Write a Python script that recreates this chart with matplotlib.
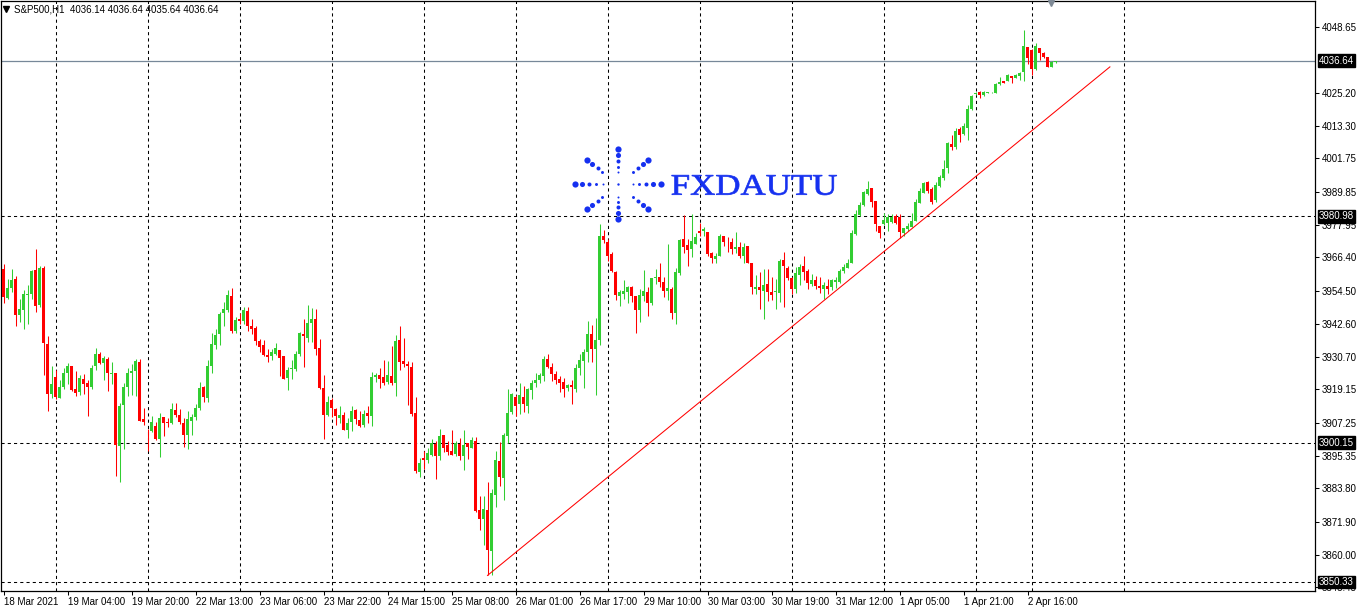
import numpy as np
import matplotlib
matplotlib.use("Agg")
import matplotlib.pyplot as plt
from matplotlib.textpath import TextPath
from matplotlib.patches import PathPatch
from matplotlib.font_manager import FontProperties
from matplotlib.transforms import Affine2D, blended_transform_factory

plt.rcParams['font.family'] = ['Liberation Sans', 'DejaVu Sans']

# S&P500 H1 candles, 18 Mar 2021 -> 2 Apr 2021
opens = [
    3962.2, 3952.0, 3955.5, 3958.6, 3945.9, 3947.4, 3952.9, 3953.2, 3961.9, 3949.2,
    3962.6, 3935.5, 3917.6, 3923.7, 3916.1, 3920.2, 3925.2, 3927.6, 3919.4, 3918.1,
    3923.0, 3921.6, 3920.2, 3927.4, 3931.9, 3928.5, 3930.2, 3924.5, 3925.1, 3898.8,
    3913.5, 3919.9, 3924.9, 3925.9, 3929.1, 3908.7, 3904.8, 3904.4, 3906.2, 3901.3,
    3909.4, 3907.4, 3907.0, 3911.9, 3910.1, 3907.3, 3903.0, 3908.0, 3909.4, 3912.4,
    3920.1, 3916.0, 3927.7, 3935.2, 3938.8, 3946.3, 3947.6, 3952.6, 3940.1, 3944.4,
    3943.5, 3947.3, 3941.9, 3941.2, 3936.3, 3935.1, 3931.6, 3931.2, 3931.9, 3933.4,
    3931.2, 3923.1, 3926.5, 3926.6, 3931.8, 3939.1, 3937.7, 3943.0, 3944.4, 3934.1,
    3919.8, 3910.2, 3915.5, 3912.3, 3908.8, 3910.2, 3904.5, 3907.4, 3911.9, 3908.4,
    3906.5, 3910.8, 3909.5, 3923.5, 3924.3, 3923.7, 3921.9, 3924.1, 3921.3, 3936.9,
    3929.4, 3928.2, 3927.3, 3910.9, 3889.5, 3894.8, 3894.1, 3895.6, 3899.8, 3895.3,
    3902.8, 3899.2, 3897.3, 3896.1, 3899.8, 3895.5, 3899.9, 3898.3, 3900.9, 3876.0,
    3872.7, 3876.2, 3861.3, 3881.3, 3893.7, 3887.4, 3902.4, 3911.1, 3916.6, 3914.1,
    3916.6, 3913.4, 3918.8, 3921.3, 3922.4, 3923.8, 3930.0, 3927.3, 3924.5, 3922.9,
    3921.9, 3919.5, 3920.9, 3919.4, 3926.9, 3929.3, 3932.5, 3939.1, 3933.5, 3936.9,
    3974.0, 3971.7, 3967.6, 3961.0, 3952.7, 3953.2, 3953.9, 3955.8, 3952.5, 3947.4,
    3952.4, 3954.1, 3950.0, 3958.8, 3959.4, 3957.7, 3954.5, 3955.0, 3946.4, 3960.8,
    3972.9, 3970.7, 3969.4, 3971.2, 3975.8, 3975.6, 3975.5, 3967.9, 3965.7, 3966.9,
    3974.0, 3972.0, 3971.9, 3969.3, 3970.0, 3966.8, 3970.5, 3964.5, 3955.0, 3955.7,
    3954.4, 3956.9, 3954.1, 3953.8, 3953.7, 3965.5, 3962.6, 3958.8, 3955.2, 3960.0,
    3963.2, 3961.6, 3956.7, 3958.3, 3956.2, 3955.1, 3956.1, 3955.7, 3957.6, 3957.6,
    3961.4, 3962.7, 3964.5, 3974.8, 3981.4, 3985.0, 3989.0, 3991.1, 3986.5, 3977.4,
    3978.2, 3978.6, 3978.9, 3981.3, 3980.9, 3975.0, 3976.4, 3977.2, 3979.4, 3985.7,
    3989.5, 3993.2, 3990.8, 3986.9, 3992.0, 3994.6, 3998.4, 4006.9, 4005.6, 4012.1,
    4010.5, 4012.7, 4019.3, 4024.7, 4025.6, 4024.3, 4025.0, 4025.3, 4025.2, 4028.2,
    4029.4, 4029.4, 4031.2, 4030.6, 4031.2, 4032.5, 4041.6, 4040.4, 4033.6, 4041.1,
    4039.5, 4037.9, 4034.5, 4036.14,
]
highs = [
    3964.0, 3958.6, 3962.2, 3959.7, 3951.6, 3954.8, 3956.5, 3961.9, 3969.4, 3963.3,
    3963.3, 3938.3, 3927.6, 3926.2, 3922.6, 3926.7, 3928.5, 3927.6, 3925.7, 3924.2,
    3924.8, 3922.4, 3927.9, 3933.8, 3932.6, 3931.2, 3930.7, 3929.1, 3925.1, 3914.3,
    3921.3, 3926.8, 3928.3, 3930.0, 3930.1, 3912.6, 3905.1, 3909.8, 3907.4, 3910.6,
    3909.4, 3909.1, 3914.4, 3914.4, 3912.3, 3909.0, 3911.6, 3910.5, 3913.8, 3921.8,
    3920.4, 3929.5, 3939.3, 3940.7, 3946.8, 3950.4, 3954.8, 3955.4, 3945.2, 3946.4,
    3948.6, 3948.6, 3944.3, 3941.7, 3937.2, 3936.9, 3933.7, 3933.7, 3935.9, 3933.4,
    3931.2, 3927.2, 3929.8, 3932.9, 3939.8, 3944.4, 3949.4, 3948.2, 3947.9, 3937.3,
    3924.3, 3916.9, 3916.1, 3912.7, 3913.4, 3911.1, 3909.0, 3913.4, 3912.0, 3911.6,
    3911.7, 3913.4, 3925.5, 3925.2, 3926.7, 3929.5, 3929.3, 3934.8, 3938.5, 3941.9,
    3937.6, 3929.3, 3928.8, 3916.6, 3894.7, 3897.0, 3898.3, 3901.5, 3900.6, 3905.1,
    3902.8, 3900.6, 3904.8, 3900.8, 3901.8, 3904.8, 3899.9, 3902.2, 3902.0, 3881.1,
    3881.2, 3886.1, 3883.6, 3897.3, 3900.4, 3903.6, 3919.4, 3917.9, 3917.2, 3921.5,
    3920.5, 3919.6, 3922.6, 3925.2, 3925.0, 3931.0, 3931.7, 3928.6, 3925.6, 3923.8,
    3923.1, 3921.2, 3922.4, 3928.4, 3931.7, 3933.5, 3943.7, 3942.3, 3944.8, 3978.3,
    3976.2, 3972.9, 3968.1, 3961.6, 3954.8, 3958.3, 3956.0, 3956.2, 3952.5, 3955.2,
    3961.9, 3955.7, 3959.1, 3962.2, 3964.5, 3959.2, 3971.2, 3955.8, 3962.7, 3972.9,
    3981.5, 3972.9, 3981.9, 3975.2, 3978.6, 3977.3, 3975.5, 3968.4, 3967.9, 3974.8,
    3974.0, 3973.6, 3973.2, 3975.5, 3971.7, 3971.4, 3970.5, 3964.5, 3960.1, 3961.2,
    3962.2, 3962.2, 3959.3, 3958.6, 3965.9, 3968.4, 3963.1, 3959.5, 3962.9, 3964.0,
    3966.7, 3962.2, 3960.5, 3959.8, 3959.4, 3957.5, 3958.7, 3958.7, 3959.3, 3962.3,
    3963.9, 3965.8, 3976.2, 3983.4, 3986.3, 3990.2, 3993.8, 3991.1, 3986.5, 3977.4,
    3982.2, 3981.8, 3981.9, 3981.8, 3981.9, 3977.0, 3978.6, 3982.2, 3987.2, 3991.1,
    3993.4, 3993.8, 3991.5, 3993.3, 3995.8, 4001.2, 4007.7, 4010.1, 4012.7, 4012.9,
    4014.4, 4020.8, 4024.5, 4025.5, 4025.8, 4025.8, 4025.6, 4025.5, 4028.7, 4030.7,
    4029.5, 4031.9, 4031.2, 4031.9, 4032.5, 4047.6, 4041.6, 4040.7, 4043.1, 4041.1,
    4039.8, 4037.9, 4036.6, 4036.64,
]
lows = [
    3950.2, 3951.4, 3953.8, 3942.0, 3943.4, 3940.6, 3942.7, 3951.6, 3946.7, 3948.5,
    3924.2, 3911.3, 3916.1, 3915.8, 3916.1, 3919.4, 3921.0, 3918.6, 3916.7, 3917.0,
    3917.4, 3909.5, 3919.4, 3926.1, 3928.2, 3922.6, 3918.5, 3921.2, 3888.1, 3886.0,
    3897.7, 3916.7, 3917.2, 3916.9, 3907.8, 3906.3, 3897.0, 3903.8, 3901.2, 3894.9,
    3902.4, 3905.6, 3906.9, 3909.4, 3906.9, 3898.5, 3897.7, 3903.0, 3908.1, 3911.9,
    3914.5, 3914.5, 3924.9, 3933.6, 3935.1, 3941.7, 3947.0, 3939.2, 3939.3, 3942.7,
    3942.5, 3940.1, 3938.8, 3935.1, 3932.6, 3931.1, 3929.1, 3929.8, 3931.6, 3924.1,
    3922.8, 3919.1, 3923.0, 3925.9, 3931.2, 3927.0, 3936.0, 3936.1, 3931.3, 3919.3,
    3901.3, 3909.5, 3909.4, 3906.3, 3907.2, 3904.5, 3901.7, 3904.2, 3906.7, 3905.8,
    3905.8, 3907.0, 3906.0, 3921.7, 3919.8, 3920.6, 3921.1, 3920.7, 3916.9, 3926.0,
    3927.0, 3913.7, 3909.5, 3889.4, 3887.8, 3890.6, 3892.8, 3895.5, 3887.0, 3893.8,
    3896.9, 3895.9, 3895.6, 3895.3, 3894.1, 3890.5, 3894.2, 3898.1, 3875.3, 3869.1,
    3863.7, 3852.7, 3852.7, 3877.1, 3884.5, 3879.8, 3900.1, 3910.4, 3909.8, 3910.5,
    3911.2, 3910.8, 3915.9, 3920.2, 3921.5, 3922.0, 3926.8, 3922.0, 3921.2, 3918.3,
    3916.6, 3918.5, 3913.8, 3918.2, 3924.3, 3919.5, 3929.1, 3928.8, 3917.0, 3935.1,
    3971.4, 3964.9, 3961.0, 3951.0, 3948.8, 3951.6, 3950.1, 3950.4, 3939.3, 3943.4,
    3950.7, 3945.5, 3949.2, 3956.8, 3955.9, 3952.2, 3951.2, 3944.4, 3942.4, 3960.2,
    3968.0, 3963.1, 3966.5, 3971.1, 3973.8, 3973.8, 3966.7, 3964.2, 3964.5, 3966.8,
    3970.5, 3968.4, 3967.4, 3967.9, 3966.1, 3964.4, 3964.3, 3953.3, 3953.2, 3948.0,
    3944.3, 3950.8, 3951.2, 3947.9, 3950.4, 3948.5, 3958.1, 3953.3, 3953.6, 3956.6,
    3958.1, 3955.0, 3956.1, 3955.0, 3953.7, 3951.6, 3953.3, 3954.8, 3955.4, 3957.2,
    3960.7, 3962.5, 3964.3, 3974.3, 3981.3, 3984.8, 3988.7, 3984.4, 3975.6, 3973.2,
    3977.9, 3975.6, 3978.6, 3978.3, 3973.2, 3973.8, 3975.8, 3977.2, 3979.2, 3985.7,
    3989.3, 3989.5, 3985.5, 3986.0, 3991.5, 3994.0, 3996.4, 4004.7, 4005.1, 4007.4,
    4010.1, 4008.3, 4019.0, 4024.5, 4023.4, 4024.0, 4024.9, 4025.1, 4025.1, 4027.9,
    4028.7, 4029.3, 4028.8, 4030.5, 4029.7, 4029.5, 4035.3, 4031.5, 4033.3, 4036.9,
    4037.7, 4034.3, 4034.3, 4035.64,
]
closes = [
    3952.3, 3955.4, 3958.3, 3945.9, 3948.0, 3953.3, 3953.2, 3961.6, 3948.8, 3962.6,
    3935.6, 3917.4, 3921.2, 3916.3, 3920.1, 3925.1, 3927.6, 3918.8, 3918.0, 3923.4,
    3921.2, 3919.9, 3926.9, 3931.9, 3928.5, 3930.5, 3924.9, 3925.1, 3899.2, 3913.4,
    3920.1, 3925.0, 3925.9, 3929.4, 3908.0, 3907.4, 3904.5, 3907.6, 3901.6, 3909.1,
    3907.0, 3907.0, 3912.3, 3909.9, 3907.4, 3902.8, 3908.7, 3909.4, 3912.6, 3919.8,
    3916.3, 3927.5, 3935.5, 3938.7, 3946.2, 3948.0, 3953.0, 3940.1, 3944.1, 3943.7,
    3947.6, 3941.7, 3940.8, 3936.3, 3934.4, 3931.3, 3930.8, 3932.5, 3934.0, 3930.5,
    3923.0, 3926.2, 3926.7, 3931.9, 3939.4, 3938.1, 3943.0, 3944.4, 3933.5, 3919.8,
    3910.2, 3914.8, 3912.4, 3909.5, 3909.9, 3904.8, 3907.3, 3911.6, 3908.6, 3906.0,
    3910.5, 3909.5, 3923.7, 3924.3, 3923.0, 3921.6, 3924.3, 3921.3, 3936.6, 3929.1,
    3928.1, 3927.4, 3910.5, 3889.9, 3893.0, 3894.1, 3896.6, 3899.9, 3895.3, 3902.4,
    3898.4, 3896.8, 3895.9, 3899.9, 3895.5, 3899.4, 3898.5, 3901.2, 3875.9, 3873.0,
    3876.5, 3861.7, 3882.1, 3894.1, 3887.7, 3902.9, 3910.9, 3917.4, 3913.1, 3917.2,
    3913.8, 3919.3, 3921.3, 3922.6, 3924.4, 3929.9, 3927.2, 3924.5, 3922.6, 3921.6,
    3919.4, 3920.6, 3919.9, 3926.8, 3929.5, 3932.6, 3938.8, 3933.5, 3936.9, 3974.0,
    3972.4, 3966.9, 3961.6, 3953.0, 3954.1, 3954.5, 3955.7, 3952.6, 3947.4, 3952.9,
    3954.3, 3950.2, 3959.1, 3959.4, 3957.4, 3954.3, 3955.5, 3946.3, 3961.0, 3972.6,
    3970.2, 3968.8, 3972.2, 3973.7, 3975.1, 3976.4, 3967.6, 3966.2, 3966.9, 3973.8,
    3972.0, 3971.7, 3969.4, 3970.1, 3967.0, 3970.1, 3964.5, 3955.6, 3955.7, 3954.8,
    3956.6, 3953.8, 3953.0, 3954.4, 3965.1, 3963.1, 3959.1, 3955.2, 3960.7, 3962.9,
    3961.2, 3957.2, 3958.2, 3956.2, 3955.3, 3956.6, 3955.2, 3958.1, 3958.1, 3961.3,
    3962.9, 3964.5, 3975.2, 3981.8, 3985.1, 3989.6, 3990.8, 3986.3, 3978.3, 3975.2,
    3979.6, 3980.9, 3980.9, 3978.6, 3975.4, 3976.8, 3977.4, 3979.5, 3986.1, 3990.0,
    3992.9, 3990.0, 3986.2, 3992.3, 3994.9, 3997.9, 4007.1, 4005.6, 4011.5, 4010.1,
    4013.4, 4019.4, 4024.0, 4025.2, 4024.5, 4025.6, 4025.5, 4025.4, 4028.4, 4029.1,
    4028.8, 4031.5, 4030.3, 4031.6, 4032.3, 4042.0, 4037.5, 4033.7, 4041.9, 4039.5,
    4038.1, 4034.5, 4036.1, 4036.64,
]

price_ticks = [4048.65, 4025.20, 4013.30, 4001.75, 3989.85, 3977.95, 3966.40,
               3954.50, 3942.60, 3930.70, 3919.15, 3907.25, 3895.35, 3883.80,
               3871.90, 3860.00, 3848.45]
time_labels = ["18 Mar 2021", "19 Mar 04:00", "19 Mar 20:00", "22 Mar 13:00",
               "23 Mar 06:00", "23 Mar 22:00", "24 Mar 15:00", "25 Mar 08:00",
               "26 Mar 01:00", "26 Mar 17:00", "29 Mar 10:00", "30 Mar 03:00",
               "30 Mar 19:00", "31 Mar 12:00", "1 Apr 05:00", "1 Apr 21:00",
               "2 Apr 16:00"]
label_every = 16
day_lines = [13, 36, 59, 82, 105, 128, 151, 174, 197, 220, 243, 257, 280]
hlines = [3980.98, 3900.15, 3850.33]
bid = 4036.64
trend_x = [121, 276.6]
trend_y = [3852.7, 4034.4]

W, H = 1363, 609
fig = plt.figure(figsize=(W / 100, H / 100), dpi=100)
fig.patch.set_facecolor('white')
ax = fig.add_axes([1 / W, 18 / H, 1314 / W, 590 / H])

o = np.array(opens); h = np.array(highs); l = np.array(lows); c = np.array(closes)
x = np.arange(len(o))
up = c >= o
green, red = '#32cd32', '#ff0000'
cols = np.where(up, green, red)

ax.vlines(x, l, h, colors=cols, linewidth=0.75, zorder=3)
body_lo = np.minimum(o, c)
body_h = np.maximum(np.abs(c - o), 0.3)
ax.bar(x, body_h, bottom=body_lo, width=0.78, color=cols, linewidth=0, zorder=3)

# vertical grid (day separators)
for d in day_lines:
    ax.axvline(d, color='black', lw=0.75, ls=(0, (3, 3)), zorder=1)
for p in hlines:
    ax.axhline(p, color='black', lw=0.75, ls=(0, (3, 3)), zorder=2)
ax.axhline(bid, color='#778899', lw=0.9, zorder=2)

ax.plot(trend_x, trend_y, color='red', lw=0.75, zorder=4)

ax.set_xlim(-0.625, 327.875)
ax.set_ylim(3847.14, 4057.94)

ax.set_xticks(np.arange(len(time_labels)) * label_every)
ax.set_xticklabels(time_labels, ha='left')
ax.tick_params(axis='x', direction='out', length=3, width=0.75, pad=1, labelsize=7)
ax.yaxis.tick_right()
ax.set_yticks(price_ticks)
ax.set_yticklabels([f"{v:.2f}" for v in price_ticks])
ax.tick_params(axis='y', direction='out', length=3, width=0.75, pad=2, labelsize=7)
for s in ax.spines.values():
    s.set_color('black')
    s.set_linewidth(0.9)

# price boxes on the right axis
tr = blended_transform_factory(ax.transAxes, ax.transData)
for p in [bid] + hlines:
    ax.text(1 + 4 / 1314, p, f"{p:.2f}", transform=tr, color='white', fontsize=7,
            va='center', ha='left', clip_on=False, zorder=10,
            bbox=dict(boxstyle='square,pad=0.12', fc='black', ec='black'))

# overlay in pixel coordinates (origin top-left)
ov = fig.add_axes([0, 0, 1, 1])
ov.set_xlim(0, W)
ov.set_ylim(H, 0)
ov.axis('off')

ov.text(14, 9, "S&P500,H1  4036.14 4036.64 4035.64 4036.64", fontsize=7,
        color='black', va='center', ha='left')
ov.plot([6], [9], marker='v', ms=4, color='black')
ov.plot([1051], [3], marker='v', ms=5, color='#7f8a96')

# FXDAUTU logo
blue = '#1530f0'
cx, cy = 617.7, 184.3
rx, ry = 43, 35
for k in range(8):
    ang = np.deg2rad(45 * k)
    fr = [0.35, 0.5, 0.66, 0.83, 1.0] if k % 2 == 0 else [0.5, 0.66, 0.83, 1.0]
    for f in fr:
        px = cx + np.cos(ang) * rx * f
        py = cy - np.sin(ang) * ry * f
        d = 2.0 + 4.2 * (f - 0.35) / 0.65
        ov.scatter(px, py, s=(d * 0.72) ** 2, color=blue, linewidths=0)
ov.scatter(cx, cy, s=(2.4 * 0.72) ** 2, color=blue, linewidths=0)

tp = TextPath((0, 0), "FXDAUTU", size=1, prop=FontProperties(family='Liberation Serif'))
ext = tp.get_extents()
sx = 165 / ext.width
sy = 20 / ext.height
t = Affine2D().translate(-ext.x0, -ext.y0).scale(sx, -sy).translate(671.7, 195) + ov.transData
ov.add_patch(PathPatch(tp, transform=t, fc=blue, ec=blue, lw=0.5))

fig.savefig("out.png", dpi=100, facecolor='white')
